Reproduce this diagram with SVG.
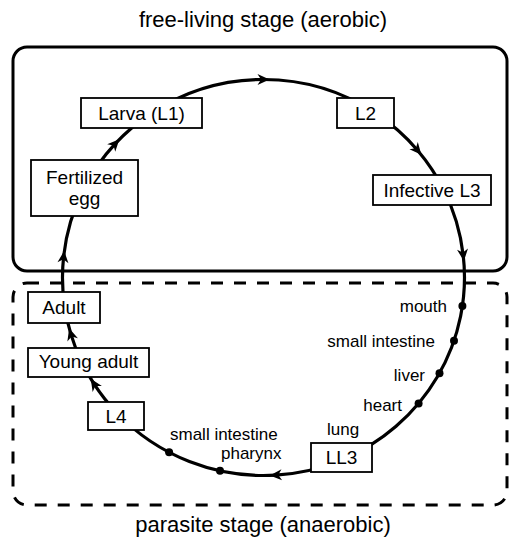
<svg xmlns="http://www.w3.org/2000/svg" width="510" height="538" viewBox="0 0 510 538">
<style>
text { font-family: "Liberation Sans", Arial, sans-serif; fill: #000; }
.title { font-size: 22px; text-anchor: middle; }
.lbl { font-size: 19px; text-anchor: middle; }
.site { font-size: 17px; }
.box { fill: #fff; stroke: #000; stroke-width: 1.8; }
.conn { fill: none; stroke: #000; stroke-width: 3.2; marker-mid: url(#ah); }
.dot { fill: #000; }
</style>
<defs>
<marker id="ah" markerUnits="userSpaceOnUse" markerWidth="20" markerHeight="20" viewBox="-10 -10 20 20" refX="0" refY="0" orient="auto">
<path d="M-6,-5.5 L6,0 L-6,5.5 L-2.5,0 Z" fill="#000"/>
</marker>
</defs>

<text class="title" x="263" y="27">free-living stage (aerobic)</text>
<rect x="13" y="47" width="494" height="224" rx="14" fill="none" stroke="#000" stroke-width="3"/>
<rect x="13" y="283" width="494" height="222" rx="14" fill="none" stroke="#000" stroke-width="3" stroke-dasharray="12 11"/>
<text class="title" x="263" y="532">parasite stage (anaerobic)</text>

<g id="connectors">
<path class="conn" d="M84.2,187.9 A201,198 0 0 1 115.3,143.7 A201,198 0 0 1 151.1,113.4"/>
<path class="conn" d="M151.1,113.4 A201,198 0 0 1 263.5,79.5 A201,198 0 0 1 375.9,113.4"/>
<path class="conn" d="M375.9,113.4 A201,198 0 0 1 417.5,150.2 A201,198 0 0 1 443.9,190.1"/>
<path class="conn" d="M443.9,190.1 A201,198 0 0 1 463.2,255.1 A201,198 0 0 1 343.6,459.1"/>
<path class="conn" d="M343.6,459.1 A201,198 0 0 1 275.8,475.1 A201,198 0 0 1 117,413"/>
<path class="conn" d="M117,413 A201,198 0 0 1 94,383.9 A201,198 0 0 1 81.3,361.2"/>
<path class="conn" d="M81.3,361.2 A201,198 0 0 1 70.9,334.1 A201,198 0 0 1 64.6,306.4"/>
<path class="conn" d="M64.6,306.4 A201,198 0 0 1 63.6,256.8 A201,198 0 0 1 84.2,187.9"/>
<circle class="dot" cx="462.4" cy="306.1" r="4"/>
<circle class="dot" cx="454" cy="340.7" r="4"/>
<circle class="dot" cx="439.5" cy="373.2" r="4"/>
<circle class="dot" cx="418.6" cy="403.4" r="4"/>
<circle class="dot" cx="220" cy="470.8" r="4"/>
<circle class="dot" cx="169.1" cy="452.3" r="4"/>
</g>

<g id="site-labels">
<text class="site" x="447" y="312" text-anchor="end">mouth</text>
<text class="site" x="435" y="347" text-anchor="end">small intestine</text>
<text class="site" x="425" y="381" text-anchor="end">liver</text>
<text class="site" x="402" y="411" text-anchor="end">heart</text>
<text class="site" x="327" y="435">lung</text>
<text class="site" x="170" y="440">small intestine</text>
<text class="site" x="221" y="459">pharynx</text>
</g>

<g id="egg"><rect class="box" x="31" y="160" width="107" height="56"/><text class="lbl" x="84.5" y="184">Fertilized</text><text class="lbl" x="84.5" y="205">egg</text></g>
<g id="l1"><rect class="box" x="81" y="98" width="121" height="30"/><text class="lbl" x="141.5" y="120">Larva (L1)</text></g>
<g id="l2"><rect class="box" x="337" y="98" width="57" height="30"/><text class="lbl" x="365.5" y="120">L2</text></g>
<g id="l3"><rect class="box" x="373" y="175" width="118" height="30"/><text class="lbl" x="432" y="197">Infective L3</text></g>
<g id="ll3"><rect class="box" x="311" y="443" width="61" height="29"/><text class="lbl" x="341.5" y="464">LL3</text></g>
<g id="l4"><rect class="box" x="88" y="402" width="56" height="28"/><text class="lbl" x="116" y="423">L4</text></g>
<g id="young"><rect class="box" x="28" y="348" width="121" height="29"/><text class="lbl" x="88.5" y="368">Young adult</text></g>
<g id="adult"><rect class="box" x="28" y="292" width="72" height="31"/><text class="lbl" x="64" y="314">Adult</text></g>
</svg>
